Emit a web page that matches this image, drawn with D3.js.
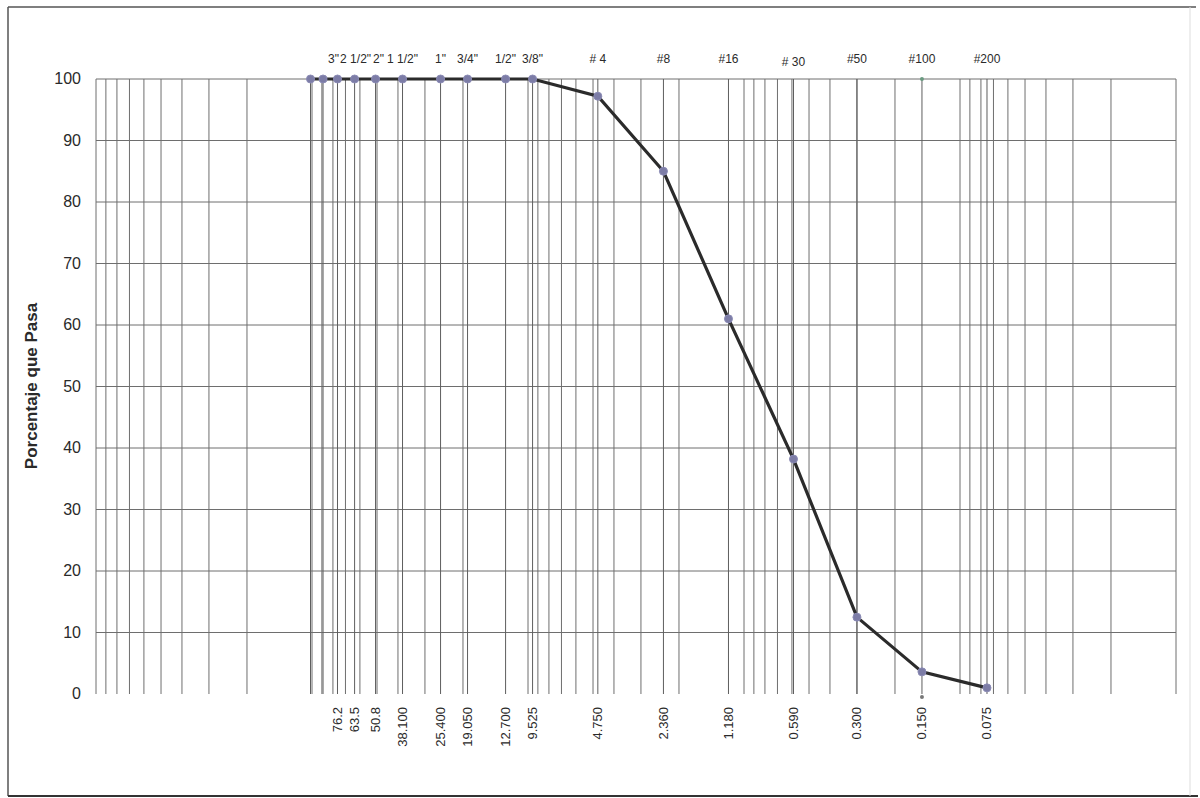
<!DOCTYPE html>
<html>
<head>
<meta charset="utf-8">
<script src="https://cdn.jsdelivr.net/npm/d3@7"></script>
<style>
  body { margin: 0; background: #fff; }
  text { font-family: "Liberation Sans", Arial, sans-serif; fill: #2a2a2a; }
</style>
</head>
<body>
<svg id="chart" width="1200" height="798"></svg>
<script>
// sieve sizes (mm) and percent passing
const sizes = [101.6, 88.9, 76.2, 63.5, 50.8, 38.1, 25.4, 19.05, 12.7, 9.525, 4.75, 2.36, 1.18, 0.59, 0.3, 0.15, 0.075]
const passing = [100, 100, 100, 100, 100, 100, 100, 100, 100, 100, 97.2, 85, 61, 38.2, 12.5, 3.6, 1.0]

// sieve names (top) and openings (bottom)
const topLabels = [
  {size: 76.2, text: '3"'}, {size: 63.5, text: '2 1/2"'}, {size: 50.8, text: '2"'},
  {size: 38.1, text: '1 1/2"'}, {size: 25.4, text: '1"'}, {size: 19.05, text: '3/4"'},
  {size: 12.7, text: '1/2"'}, {size: 9.525, text: '3/8"'}, {size: 4.75, text: '# 4'},
  {size: 2.36, text: '#8'}, {size: 1.18, text: '#16'}, {size: 0.59, text: '# 30'},
  {size: 0.3, text: '#50'}, {size: 0.15, text: '#100'}, {size: 0.075, text: '#200'}
]
const bottomSizes = [76.2, 63.5, 50.8, 38.1, 25.4, 19.05, 12.7, 9.525, 4.75, 2.36, 1.18, 0.59, 0.3, 0.15, 0.075]
const bottomLabels = ['76.2', '63.5', '50.8', '38.100', '25.400', '19.050', '12.700', '9.525',
  '4.750', '2.360', '1.180', '0.590', '0.300', '0.150', '0.075']
const yTicks = [0, 10, 20, 30, 40, 50, 60, 70, 80, 90, 100]

const svg = d3.select('#chart')

// outer frame
svg.append('line').attr('x1', 8).attr('x2', 1196).attr('y1', 7).attr('y2', 7).attr('stroke', '#555').attr('stroke-width', 1.5)
svg.append('line').attr('x1', 8).attr('x2', 8).attr('y1', 7).attr('y2', 796).attr('stroke', '#555').attr('stroke-width', 1.5)
svg.append('line').attr('x1', 8).attr('x2', 1198).attr('y1', 796).attr('y2', 796).attr('stroke', '#333').attr('stroke-width', 2)
svg.append('line').attr('x1', 1190).attr('x2', 1190).attr('y1', 7).attr('y2', 796).attr('stroke', '#ddd').attr('stroke-width', 1)

const x = d3.scaleLog().domain([1000, 0.01]).range([96, 1176])
const y = d3.scaleLinear().domain([0, 100]).range([694, 79])

const g = svg.append('g')

// horizontal grid
g.selectAll('.hgrid')
  .data(yTicks.filter(d => d > 0))
  .join('line')
  .attr('x1', x.range()[0]).attr('x2', x.range()[1])
  .attr('y1', d => y(d)).attr('y2', d => y(d))
  .attr('stroke', '#6e6e6e').attr('stroke-width', 1)

// log grid
g.selectAll('.vgrid')
  .data(x.ticks())
  .join('line')
  .attr('x1', d => x(d)).attr('x2', d => x(d))
  .attr('y1', y(100)).attr('y2', y(0))
  .attr('stroke', '#6e6e6e').attr('stroke-width', 1)

// sieve lines
g.selectAll('.sgrid')
  .data(sizes)
  .join('line')
  .attr('x1', d => x(d)).attr('x2', d => x(d))
  .attr('y1', y(100)).attr('y2', y(0))
  .attr('stroke', '#5e5e5e').attr('stroke-width', 1)

// y labels
g.selectAll('.ylab')
  .data(yTicks)
  .join('text')
  .attr('x', 81).attr('y', d => y(d) + 5)
  .attr('text-anchor', 'end')
  .attr('font-size', 16)
  .text(d => d)

svg.append('text')
  .attr('transform', `translate(37,386) rotate(-90)`)
  .attr('text-anchor', 'middle')
  .attr('font-size', 17)
  .attr('font-weight', 'bold')
  .text('Porcentaje que Pasa')

// top labels
const nudge = {'3"': -4, '2 1/2"': 1, '2"': 3}
g.selectAll('.tlab')
  .data(topLabels)
  .join('text')
  .attr('x', d => x(d.size) + (nudge[d.text] || 0))
  .attr('y', d => d.text === '# 30' ? 66 : 63)
  .attr('text-anchor', 'middle')
  .attr('font-size', 12)
  .text(d => d.text)

// bottom labels
g.selectAll('.blab')
  .data(bottomSizes)
  .join('text')
  .attr('transform', d => `translate(${x(d) + 4.5},707) rotate(-90)`)
  .attr('text-anchor', 'end')
  .attr('font-size', 13)
  .text((d, i) => bottomLabels[i])

// curve
const pts = sizes.map((s, i) => ({size: s, value: passing[i]}))
g.append('path')
  .datum(pts)
  .attr('fill', 'none')
  .attr('stroke', '#2b2b2b')
  .attr('stroke-width', 3.2)
  .attr('d', d3.line().x(d => x(d.size)).y(d => y(d.value)))

g.selectAll('.pt')
  .data(pts)
  .join('circle')
  .attr('cx', d => x(d.size)).attr('cy', d => y(d.value))
  .attr('r', 4)
  .attr('fill', '#7c7ca6')
  .attr('stroke', '#8b8bb5')
  .attr('stroke-width', 1)

// small marks on #100 line
g.selectAll('.mk')
  .data([{size: 0.15, value: 100, c: '#6a9a80'}, {size: 0.15, value: 0, c: '#777'}])
  .join('circle')
  .attr('cx', d => x(d.size)).attr('cy', d => y(d.value) + (d.value === 0 ? 3 : 0))
  .attr('r', 2)
  .attr('fill', d => d.c)
</script>
</body>
</html>
